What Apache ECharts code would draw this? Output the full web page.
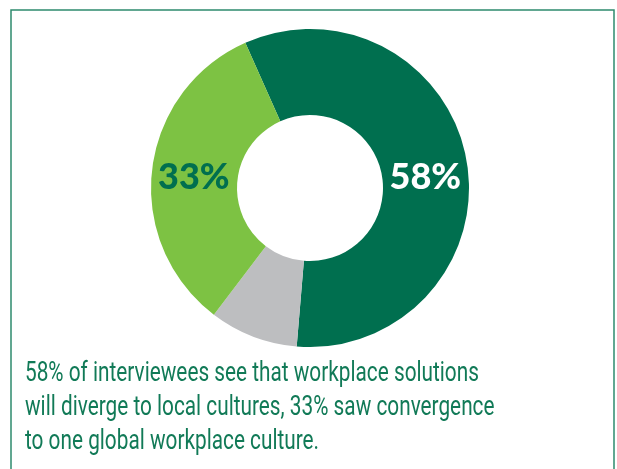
<!DOCTYPE html>
<html>
<head>
<meta charset="utf-8">
<script src="https://cdn.jsdelivr.net/npm/echarts@6/dist/echarts.min.js"></script>
<style>
html,body{margin:0;padding:0;background:#fff;}
#main{width:617px;height:469px;}
</style>
</head>
<body>
<div id="main"></div>
<script>
const categories = ['Diverge to local cultures', 'Other', 'Convergence to one global culture'];
const values = [58, 9, 33];
const colors = ['#006F4F', '#BDBEC0', '#7DC243'];
const labelColors = ['#FFFFFF', '#FFFFFF', '#006F4F'];
const showLabel = [true, false, true];
const labelOffsets = [[-2, 9], [0, 0], [2, 3]];
const caption = [
  '58% of interviewees see that workplace solutions',
  'will diverge to local cultures, 33% saw convergence',
  'to one global workplace culture.'
];

const chart = echarts.init(document.getElementById('main'), null, {renderer: 'canvas'});
const data = categories.map((name, i) => ({
  name: name,
  value: values[i],
  itemStyle: {color: colors[i]},
  label: {
    show: showLabel[i],
    color: labelColors[i],
    offset: labelOffsets[i]
  }
}));

chart.setOption({
  animation: false,
  backgroundColor: '#ffffff',
  graphic: [{
    type: 'rect',
    shape: {x: 11, y: 10, width: 603, height: 500},
    style: {fill: 'none', stroke: '#2E8B6E', lineWidth: 1.5},
    silent: true
  }, {
    type: 'text',
    x: 25,
    y: 357,
    scaleX: 0.77,
    silent: true,
    style: {
      text: caption.join('\n'),
      font: '27px Roboto',
      lineHeight: 34,
      fill: '#117A57',
      verticalAlign: 'top',
      align: 'left'
    }
  }],
  series: [{
    type: 'pie',
    center: [310, 188],
    radius: [73, 159],
    startAngle: 114,
    clockwise: true,
    avoidLabelOverlap: false,
    itemStyle: {borderWidth: 0},
    label: {
      position: 'inside',
      formatter: '{c}%',
      fontFamily: 'Lato',
      fontWeight: 900,
      fontSize: 36
    },
    labelLine: {show: false},
    emphasis: {disabled: true},
    data: data
  }]
});
</script>
</body>
</html>
